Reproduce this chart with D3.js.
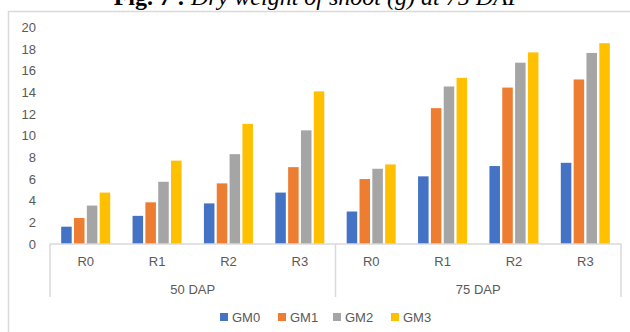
<!DOCTYPE html>
<html>
<head>
<meta charset="utf-8">
<script src="https://cdn.jsdelivr.net/npm/d3@7"></script>
<style>
  html, body { margin: 0; padding: 0; background: #fff; }
  svg { display: block; }
</style>
</head>
<body>
<svg id="chart" width="630" height="332"></svg>
<script>
// Shoot dry weight (g) by treatment, grouped by sampling date
const groups = ["50 DAP", "75 DAP"];
const treatments = ["R0", "R1", "R2", "R3"];
const seriesNames = ["GM0", "GM1", "GM2", "GM3"];
const seriesColors = ["#4472C4", "#ED7D31", "#A5A5A5", "#FFC000"];
const yTicks = [0, 2, 4, 6, 8, 10, 12, 14, 16, 18, 20];

// values per series, ordered 50 DAP R0..R3 then 75 DAP R0..R3
const gm0 = [1.6, 2.6, 3.75, 4.75, 3.0, 6.25, 7.2, 7.5];
const gm1 = [2.4, 3.85, 5.6, 7.1, 6.0, 12.55, 14.45, 15.2];
const gm2 = [3.55, 5.75, 8.3, 10.5, 6.95, 14.55, 16.75, 17.65];
const gm3 = [4.75, 7.7, 11.1, 14.1, 7.35, 15.35, 17.7, 18.55];
const seriesValues = [gm0, gm1, gm2, gm3];

const svg = d3.select("#chart");
const axisColor = "#d9d9d9";
const textColor = "#595959";
const font = "'Liberation Sans', Arial, sans-serif";
const fs = 13;

// figure caption, running off the top edge
const title = svg.append("text")
  .attr("x", 318).attr("y", 5)
  .attr("text-anchor", "middle")
  .attr("font-family", "'Liberation Serif', 'Times New Roman', serif")
  .attr("font-size", 24).attr("fill", "#000");
title.append("tspan").attr("font-weight", "bold").text("Fig. 7 : ");
title.append("tspan").attr("font-style", "italic").text("Dry weight of shoot (g) at 75 DAP");

// chart frame
svg.append("rect")
  .attr("x", 8.5).attr("y", 11.5).attr("width", 700).attr("height", 400)
  .attr("fill", "none").attr("stroke", axisColor).attr("stroke-width", 1.5);

const plotLeft = 50, plotRight = 621, plotTop = 27.5, plotBottom = 244;

const y = d3.scaleLinear().domain([0, 20]).range([plotBottom, plotTop]);

const categories = [];
groups.forEach(g => treatments.forEach(t => categories.push(g + "|" + t)));

const x = d3.scaleBand().domain(categories).range([plotLeft, plotRight]).padding(0);
const cw = x.bandwidth();
const span = 49;
const xInner = d3.scaleBand().domain(seriesNames)
  .range([(cw - span) / 2, (cw + span) / 2]).paddingInner(0.18).paddingOuter(0);

// y axis labels (no line)
const yAxis = d3.axisLeft(y).tickValues(yTicks).tickSize(0).tickPadding(14);
const yg = svg.append("g").attr("transform", `translate(${plotLeft},0)`).call(yAxis);
yg.select(".domain").remove();
yg.selectAll("text")
  .attr("font-family", font).attr("font-size", fs).attr("fill", textColor);

// bars
seriesNames.forEach((s, si) => {
  svg.append("g").selectAll("rect")
    .data(seriesValues[si])
    .join("rect")
    .attr("x", (d, i) => x(categories[i]) + xInner(s))
    .attr("y", d => y(d))
    .attr("width", xInner.bandwidth())
    .attr("height", d => y(0) - y(d))
    .attr("fill", seriesColors[si]);
});

// category axis
const xAxis = d3.axisBottom(x).tickSize(0).tickPadding(13)
  .tickFormat(d => d.split("|")[1]);
const xg = svg.append("g").attr("transform", `translate(0,${plotBottom})`).call(xAxis);
xg.select(".domain").attr("stroke", axisColor).attr("stroke-width", 1.5)
  .attr("d", `M${plotLeft},0H${plotRight}`);
xg.selectAll("text")
  .attr("font-family", font).attr("font-size", fs).attr("fill", textColor);

// group level: separators and labels
const groupScale = d3.scaleBand().domain(groups).range([plotLeft, plotRight]);
const sepXs = [plotLeft, ...groups.map(g => groupScale(g) + groupScale.bandwidth())];
svg.append("g").selectAll("line")
  .data(sepXs).join("line")
  .attr("x1", d => d).attr("x2", d => d)
  .attr("y1", plotBottom).attr("y2", 297)
  .attr("stroke", axisColor).attr("stroke-width", 1.5);
svg.append("g").selectAll("text")
  .data(groups).join("text")
  .attr("x", d => groupScale(d) + groupScale.bandwidth() / 2)
  .attr("y", 294)
  .attr("text-anchor", "middle")
  .attr("font-family", font).attr("font-size", fs).attr("fill", textColor)
  .text(d => d);

// legend
const legendX = [220, 278, 333, 391];
const legend = svg.append("g").selectAll("g")
  .data(seriesNames).join("g")
  .attr("transform", (d, i) => `translate(${legendX[i]},313)`);
legend.append("rect")
  .attr("width", 8).attr("height", 8)
  .attr("fill", (d, i) => seriesColors[i]);
legend.append("text")
  .attr("x", 12).attr("y", 9)
  .attr("font-family", font).attr("font-size", fs).attr("fill", textColor)
  .text(d => d);
</script>
</body>
</html>
